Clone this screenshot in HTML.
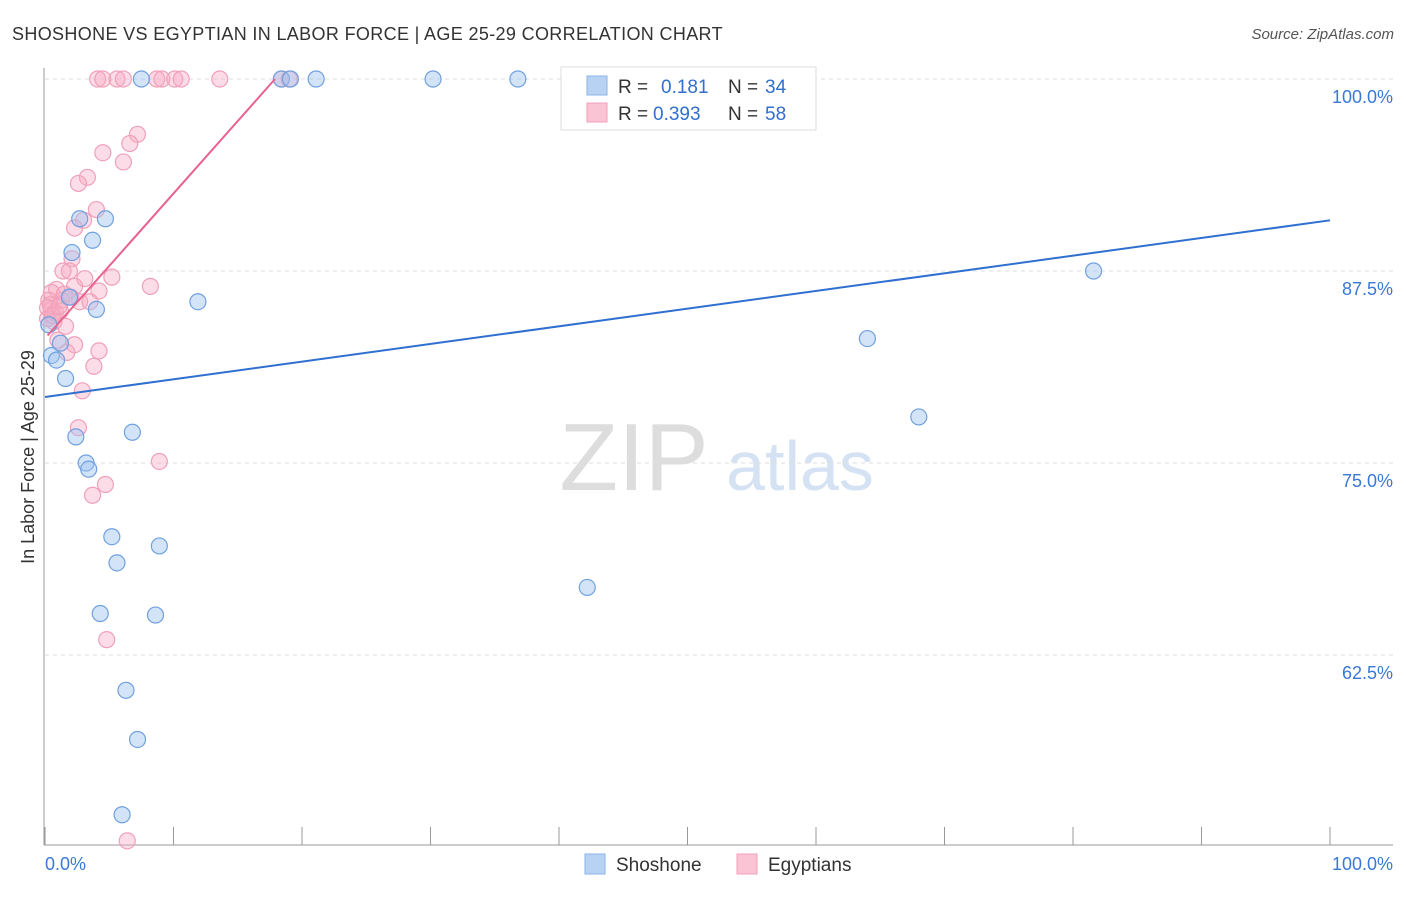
<!DOCTYPE html>
<html><head><meta charset="utf-8"><style>
body{margin:0;background:#fff;font-family:"Liberation Sans",sans-serif}
svg text{font-family:"Liberation Sans",sans-serif}
</style></head><body>
<svg id="c" width="1406" height="892">
<text x="12" y="40" font-size="18" fill="#333" letter-spacing="0.35">SHOSHONE VS EGYPTIAN IN LABOR FORCE | AGE 25-29 CORRELATION CHART</text>
<text x="1394" y="39" font-size="15" fill="#555" font-style="italic" text-anchor="end">Source: ZipAtlas.com</text>
<text x="634" y="490" font-size="96" fill="#ddd" font-family="Liberation Serif" text-anchor="middle">ZIP</text>
<text x="800" y="490" font-size="70" fill="#d4e2f4" text-anchor="middle">atlas</text>
<text transform="translate(34,457) rotate(-90)" font-size="18" fill="#333" text-anchor="middle">In Labor Force | Age 25-29</text>
<g id="grid"></g><g id="pts"></g><g id="lines"></g>
<g>
<rect x="561" y="67" width="255" height="63" fill="#fff" stroke="#ddd"/>
<rect x="587" y="76" width="20" height="19" fill="#b8d2f4" stroke="#8ab4e8"/>
<text x="618" y="93" font-size="19" fill="#333">R = </text><text x="661" y="93" font-size="19" fill="#2f6fd0">0.181</text>
<text x="728" y="93" font-size="19" fill="#333">N = </text><text x="765" y="93" font-size="19" fill="#2f6fd0">34</text>
<rect x="587" y="103" width="20" height="19" fill="#fac4d4" stroke="#f0a0b8"/>
<text x="618" y="120" font-size="19" fill="#333">R = </text><text x="653" y="120" font-size="19" fill="#2f6fd0">0.393</text>
<text x="728" y="120" font-size="19" fill="#333">N = </text><text x="765" y="120" font-size="19" fill="#2f6fd0">58</text>
</g>
<g>
<rect x="585" y="854" width="20" height="20" fill="#b8d2f4" stroke="#8ab4e8"/><text x="616" y="871" font-size="19" fill="#333">Shoshone</text>
<rect x="737" y="854" width="20" height="20" fill="#fac4d4" stroke="#f0a0b8"/><text x="768" y="871" font-size="19" fill="#333">Egyptians</text>
</g>
<text x="45" y="870" font-size="18" fill="#3a78d8">0.0%</text>
<text x="1393" y="870" font-size="18" fill="#3a78d8" text-anchor="end">100.0%</text>
</svg>
<script>
const yTicks=[100,87.5,75,62.5];
const yTickLabels=["100.0%","87.5%","75.0%","62.5%"];
const shoX=[7.5,18.4,19.1,21.1,30.2,36.8,2.7,4.7,3.7,2.1,4.0,1.9,11.9,0.5,0.9,1.2,1.6,2.4,6.8,3.2,3.4,5.2,5.6,8.9,4.3,8.6,6.3,7.2,6.0,81.6,64.0,68.0,42.2,0.3];
const shoY=[100,100,100,100,100,100,90.9,90.9,89.5,88.7,85.0,85.8,85.5,82.0,81.7,82.8,80.5,76.7,77.0,75.0,74.6,70.2,68.5,69.6,65.2,65.1,60.2,57.0,52.1,87.5,83.1,78.0,66.9,84.0];
const egyX=[4.1,4.5,5.6,6.1,8.7,9.1,10.1,10.6,13.6,18.4,19.0,4.5,7.2,6.6,6.1,3.3,2.6,4.0,3.0,2.3,2.1,1.4,1.9,5.2,3.1,8.2,4.2,2.3,0.9,0.5,0.3,1.3,2.7,3.5,0.5,1.2,0.2,0.7,1.6,1.0,2.3,4.2,1.7,3.8,2.9,2.6,8.9,4.7,3.7,4.8,6.4,0.4,0.8,1.5,0.2,0.6,2.0,1.1];
const egyY=[100,100,100,100,100,100,100,100,100,100,100,95.2,96.4,95.8,94.6,93.6,93.2,91.5,90.8,90.3,88.3,87.5,87.5,87.1,87.0,86.5,86.2,86.5,86.3,86.1,85.6,85.6,85.5,85.5,85.0,84.9,84.4,84.2,83.9,83.0,82.7,82.3,82.2,81.3,79.7,77.3,75.1,73.6,72.9,63.5,50.4,85.3,84.8,86.0,85.1,84.6,85.8,85.2];
const shoLine=[79.3,90.8];
const egyLine=[83.3,100];
const egyLineEnd=[0.2,17.9];
const X=v=>45+v*12.85, Y=v=>79+(100-v)*15.36;
const NS="http://www.w3.org/2000/svg";
function mk(t,a,p){const e=document.createElementNS(NS,t);for(const k in a)e.setAttribute(k,a[k]);p.appendChild(e);return e;}
const g=document.getElementById('grid');
yTicks.forEach((t,i)=>{const l=mk('line',{x1:45,x2:1393,y1:Y(t),y2:Y(t),stroke:'#ddd','stroke-dasharray':'4,4'},g);


const tx=mk('text',{x:1393,y:Y(t)+24,'font-size':18,fill:'#3a78d8','text-anchor':'end'},g);tx.textContent=yTickLabels[i];

});
mk('line',{x1:44,x2:44,y1:68,y2:845,stroke:'#999'},g);
mk('line',{x1:44,x2:1393,y1:845,y2:845,stroke:'#999'},g);
for(let i=0;i<=10;i++){const t=mk('line',{x1:X(i*10),x2:X(i*10),y1:827,y2:845,stroke:'#999'},g);

}
const p=document.getElementById('pts');
egyX.forEach((x,i)=>{const c=mk('circle',{cx:X(x),cy:Y(egyY[i]),r:8,fill:'rgba(248,170,195,0.4)',stroke:'#f0a0b8','stroke-width':1.2},p);

});
shoX.forEach((x,i)=>{const c=mk('circle',{cx:X(x),cy:Y(shoY[i]),r:8,fill:'rgba(160,195,240,0.45)',stroke:'#6fa0e0','stroke-width':1.2},p);

});
const L=document.getElementById('lines');
const a=mk('line',{x1:X(0),y1:Y(shoLine[0]),x2:X(100),y2:Y(shoLine[1]),stroke:'#2f6fd0','stroke-width':2},L);


const b=mk('line',{x1:X(egyLineEnd[0]),y1:Y(egyLine[0]),x2:X(egyLineEnd[1]),y2:Y(egyLine[1]),stroke:'#e8628f','stroke-width':2},L);


</script>
</body></html>
